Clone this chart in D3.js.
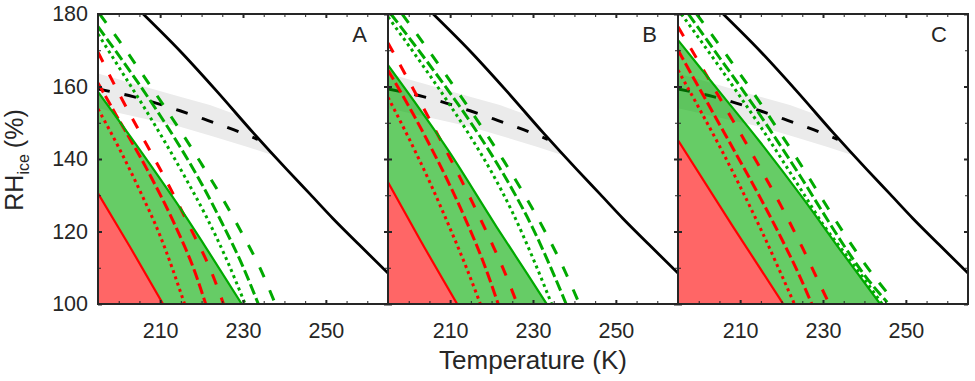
<!DOCTYPE html>
<html>
<head>
<meta charset="utf-8">
<script src="https://cdn.jsdelivr.net/npm/d3@7"></script>
<style>
  body { margin: 0; background: #fff; }
  text { font-family: "Liberation Sans", Arial, sans-serif; fill: #262626; }
</style>
</head>
<body>
<div id="chart"></div>
<script>
// ---- data (temperature K, RH over ice %) ----
const panelNames = ["A", "B", "C"];
const xMajorTicks = [210, 230, 250];
const xMinorTicks = [200, 205, 215, 220, 225, 235, 240, 245, 255, 260];
const yMajorTicks = [100, 120, 140, 160, 180];
const yMinorTicks = [110, 130, 150, 170];

// water saturation (same in every panel)
const waterSat = [[205.9,180],[214.8,169.8],[223.6,158.8],[232.5,147.2],[240.5,137.2],[246.2,130.3],[251.7,123.6],[258,116.4],[265,108.5]];
// homogeneous freezing threshold and its grey uncertainty band
const koopLine = [[195,159.3],[203.5,157.2],[214.8,153.3],[221.6,150.6],[227.7,148.1],[233.6,145.4]];
const bandUpper = [[195,163.6],[214.8,157.2],[222,154.9],[228.8,152.1]];
const bandLower = [[195,154],[214.8,148.9],[222.8,146.2],[230.9,143.4],[237,141.1]];

// panel A
const redSolidA = [[195,130.5],[202.7,115.8],[210.7,100]];
const redDotA = [[195,153.8],[200,143.2],[205,131.5],[210,118.8],[215.9,100]];
const redDashA = [[195,161],[199,152.9],[206.9,137],[213.2,122.7],[218.5,108.5],[221,100]];
const redDash2A = [[195,169.5],[200,158.2],[205,147.6],[211.4,134.2],[217.1,121.4],[222.5,108.5],[225.3,100]];
const greenSolidA = [[195,158.5],[205.1,142.5],[214.8,126.5],[221.2,115.3],[229.7,100]];
const greenDotA = [[195,174.5],[201,163.6],[206,154.5],[211,145],[216,135],[221,124.4],[226,112.4],[230.5,100]];
const greenDashA = [[195,176.5],[205,160.5],[210,152],[215,143],[220,133.2],[225,122.2],[229.8,110.8],[233.7,100]];
const greenDash2A = [[195.4,180],[200,172.8],[205,164.6],[210,156.2],[215,147.6],[220,138.6],[225,129.2],[230,119],[234,110.2],[237.8,100]];

// panel B
const redSolidB = [[195,133.6],[202.7,117.8],[211.7,100]];
const redDotB = [[195,157],[200,145.8],[205,133.8],[210,120.8],[214,109.8],[217.3,100]];
const redDashB = [[195,164.5],[200,154.6],[205,144],[210,132.6],[214,122.6],[218,111.6],[221.6,100]];
const redDash2B = [[195,172],[200,161.6],[205,151],[210,140.2],[215,128.9],[220,116.9],[223,109.2],[226.2,100]];
const greenSolidB = [[195,165.9],[209.6,142.3],[221.2,121.3],[228.5,108.5],[233.3,100]];
const greenDotB = [[195,179.2],[200,171.3],[205,163.2],[210,154.8],[215,146],[220,136.4],[225,125.4],[230,112.6],[234.5,100]];
const greenDashB = [[195.7,180],[200,173.6],[205,166],[210,158.2],[215,150],[220,141.2],[225,131.6],[230,120.8],[234,110.8],[238,100]];
const greenDash2B = [[198.4,180],[203,172.8],[208,164.8],[213,156.6],[218,148.2],[223,139.4],[228,130],[233,119.8],[237,110.8],[241.2,100]];

// panel C
const redSolidC = [[195,145.2],[208.3,121.3],[220.4,100]];
const redDotC = [[195,164.5],[200,154.2],[205,143.6],[210,132.4],[215,120.6],[220,108],[223.1,100]];
const redDashC = [[195,170],[200,159.8],[205,149.6],[210,139.4],[215,129],[220,118],[224,108.6],[227.3,100]];
const redDash2C = [[195,176.5],[200,166.8],[205,157],[210,147.2],[215,137.2],[220,126.8],[225,115.6],[229,106],[231.5,100]];
const greenSolidC = [[195,172.8],[205,158.6],[215,144.4],[225,129.4],[235,113.6],[243.8,100]];
const greenDotC = [[195.8,180],[200,173.4],[205,165.4],[210,157.2],[215,148.8],[220,140],[225,131],[230,122],[235,114.4],[240,106.8],[244.6,99.5]];
const greenDashC = [[197.5,180],[205,168],[210,160],[215,151.8],[220,143.2],[225,134.4],[230,125.2],[235,116.2],[240,108],[245.5,100.5]];
const greenDash2C = [[199.5,180],[205,171.4],[210,163.4],[215,155.2],[220,146.6],[225,137.8],[230,128.6],[235,119.6],[240,111.2],[247,101]];

const panels = [
  { name: "A", red: [redSolidA, redDotA, redDashA, redDash2A], green: [greenSolidA, greenDotA, greenDashA, greenDash2A] },
  { name: "B", red: [redSolidB, redDotB, redDashB, redDash2B], green: [greenSolidB, greenDotB, greenDashB, greenDash2B] },
  { name: "C", red: [redSolidC, redDotC, redDashC, redDash2C], green: [greenSolidC, greenDotC, greenDashC, greenDash2C] }
];
const lineKinds = ["solid", "dot", "dash", "dash2"];
const dashArray = { solid: null, dot: "3,3.6", dash: "11,4", dash2: "11,14" };
const lineWidth = { solid: 2.2, dot: 3, dash: 3, dash2: 3 };

// ---- layout ----
const width = 975, height = 381;
const margin = { top: 14, left: 98 };
const panelW = 290, panelH = 290;
const ink = "#262626";

const svg = d3.select("#chart").append("svg")
    .attr("width", width)
    .attr("height", height);

const px = d3.scaleBand().domain(panelNames).range([margin.left, margin.left + 3 * panelW]);
const x = d3.scaleLinear().domain([195, 265]).range([0, panelW]);
const y = d3.scaleLinear().domain([100, 180]).range([panelH, 0]);

const line = d3.line().x(d => x(d[0])).y(d => y(d[1])).curve(d3.curveMonotoneX);

panels.forEach(p => {
    const g = svg.append("g").attr("transform", `translate(${px(p.name)},${margin.top})`);

    g.append("clipPath").attr("id", "clip" + p.name)
        .append("rect").attr("width", panelW).attr("height", panelH);
    const plot = g.append("g").attr("clip-path", `url(#clip${p.name})`);

    // grey band, closed along the water saturation curve
    const lastUp = bandUpper[bandUpper.length - 1][0], lastLow = bandLower[bandLower.length - 1][0];
    const bandPts = bandUpper
        .concat(waterSat.filter(d => d[0] > lastUp && d[0] < lastLow))
        .concat(bandLower.slice().reverse());
    plot.append("path").attr("d", d3.line().x(d => x(d[0])).y(d => y(d[1]))(bandPts) + "Z")
        .attr("fill", "#ebebeb");

    plot.append("path").attr("d", line(koopLine))
        .attr("fill", "none").attr("stroke", "#000").attr("stroke-width", 3)
        .attr("stroke-dasharray", "12,15");

    // filled regions
    plot.append("path").attr("d", line(p.green[0]) + `L${x(195)},${y(100)}Z`)
        .attr("fill", "rgb(0,170,0)").attr("fill-opacity", 0.6);
    plot.append("path").attr("d", line(p.red[0]) + `L${x(195)},${y(100)}Z`)
        .attr("fill", "#ff6666");

    // red then green lines
    [["#ff0000", p.red], ["#00aa00", p.green]].forEach(([col, set]) => {
        set.forEach((pts, i) => {
            const k = lineKinds[i];
            plot.append("path").attr("d", line(pts))
                .attr("fill", "none")
                .attr("stroke", col)
                .attr("stroke-width", lineWidth[k])
                .attr("stroke-dasharray", dashArray[k]);
        });
    });

    plot.append("path").attr("d", line(waterSat))
        .attr("fill", "none").attr("stroke", "#000").attr("stroke-width", 2.8);

    // axes: ticks inside on all four sides
    const tickStyle = (sel, w) => {
        sel.select(".domain").remove();
        sel.selectAll(".tick line").attr("stroke", ink).attr("stroke-width", w);
        sel.selectAll(".tick text").attr("fill", ink).style("font-size", "21.5px");
    };
    g.append("g").attr("transform", `translate(0,${panelH})`)
        .call(d3.axisBottom(x).tickValues(xMajorTicks).tickSize(-4).tickPadding(19))
        .call(s => tickStyle(s, 2));
    g.append("g").attr("transform", `translate(0,${panelH})`)
        .call(d3.axisBottom(x).tickValues(xMinorTicks).tickSize(-3).tickFormat(""))
        .call(s => tickStyle(s, 1));
    g.append("g")
        .call(d3.axisTop(x).tickValues(xMajorTicks).tickSize(-4).tickFormat(""))
        .call(s => tickStyle(s, 2));
    g.append("g")
        .call(d3.axisTop(x).tickValues(xMinorTicks).tickSize(-3).tickFormat(""))
        .call(s => tickStyle(s, 1));
    g.append("g")
        .call(d3.axisLeft(y).tickValues(yMajorTicks).tickSize(-4).tickPadding(10)
            .tickFormat(p.name === "A" ? d3.format("d") : ""))
        .call(s => tickStyle(s, 2));
    g.append("g")
        .call(d3.axisLeft(y).tickValues(yMinorTicks).tickSize(-3).tickFormat(""))
        .call(s => tickStyle(s, 1));
    g.append("g").attr("transform", `translate(${panelW},0)`)
        .call(d3.axisRight(y).tickValues(yMajorTicks).tickSize(-4).tickFormat(""))
        .call(s => tickStyle(s, 2));
    g.append("g").attr("transform", `translate(${panelW},0)`)
        .call(d3.axisRight(y).tickValues(yMinorTicks).tickSize(-3).tickFormat(""))
        .call(s => tickStyle(s, 1));

    g.append("rect").attr("width", panelW).attr("height", panelH)
        .attr("fill", "none").attr("stroke", ink).attr("stroke-width", 2);

    g.append("text")
        .attr("x", panelW - 21).attr("y", 28)
        .attr("text-anchor", "end")
        .style("font-size", "22px")
        .text(p.name);
});

// x label
svg.append("text")
    .attr("x", px("B") + panelW / 2)
    .attr("y", 369)
    .attr("text-anchor", "middle")
    .style("font-size", "26px")
    .text("Temperature (K)");

// y label with subscript
const yl = svg.append("text")
    .attr("transform", "translate(23,160) rotate(-90)")
    .attr("text-anchor", "middle")
    .style("font-size", "25px");
yl.append("tspan").text("RH");
yl.append("tspan").attr("dy", 6).style("font-size", "16px").text("ice");
yl.append("tspan").attr("dy", -6).attr("dx", 6).text("(%)");
</script>
</body>
</html>
